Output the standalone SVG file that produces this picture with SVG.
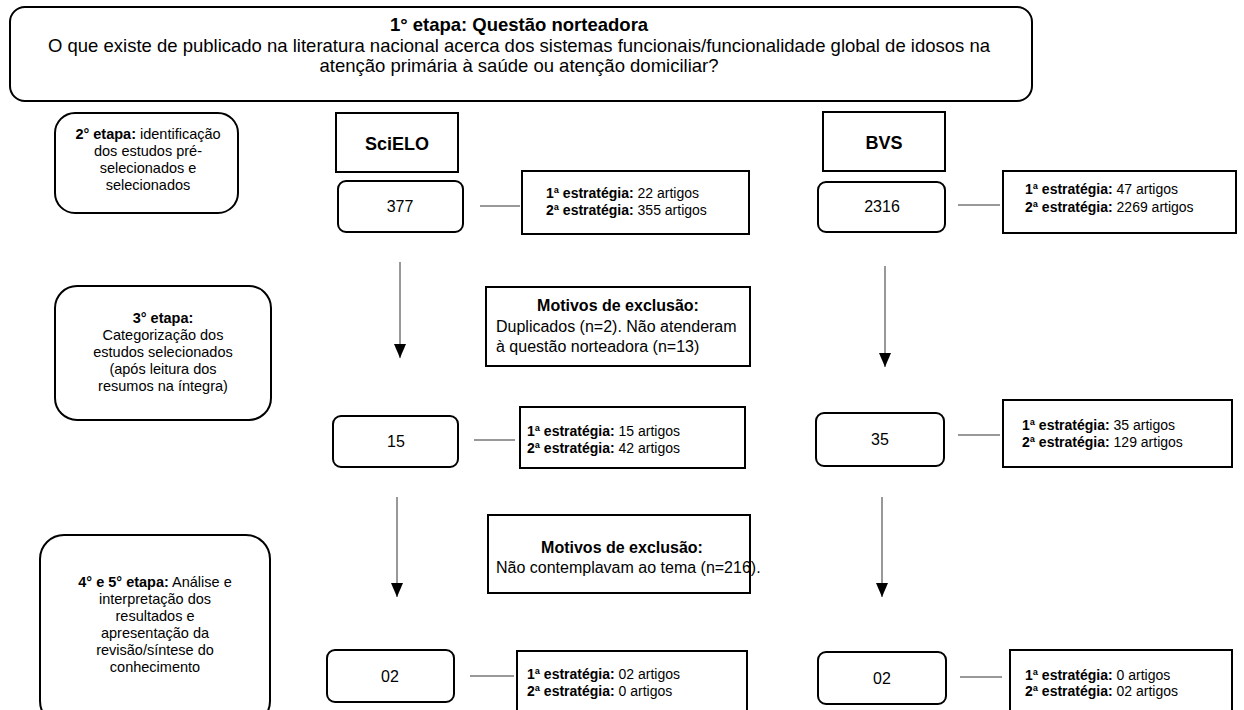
<svg xmlns="http://www.w3.org/2000/svg" width="1244" height="710" viewBox="0 0 1244 710">
<defs>
<marker id="arr" markerWidth="14" markerHeight="12" refX="14" refY="6" orient="auto" markerUnits="userSpaceOnUse" viewBox="0 0 14 12">
<path d="M0,0 L14,6 L0,12 Z" fill="#000"/>
</marker>
</defs>
<style>
text{font-family:"Liberation Sans",Arial,sans-serif;fill:#000}
.stage{fill:#fff;stroke:#000;stroke-width:2}
.box{fill:#fff;stroke:#000;stroke-width:2}
.t14{font-size:14px}
.st{font-size:14.5px}
.t16{font-size:16px}
.top{font-size:18.5px}
.c{text-anchor:middle}
.b{font-weight:bold}
.conn line{stroke:#333;stroke-width:1}
.arrow{stroke:#333;stroke-width:1.2}
</style>
<rect width="1244" height="710" fill="#fff"/>

<g id="stage1">
<rect class="stage" x="10" y="7" width="1022" height="94" rx="15"/>
<text class="top c b" x="519" y="31">1° etapa: Questão norteadora</text>
<text class="top c" x="519" y="52">O que existe de publicado na literatura nacional acerca dos sistemas funcionais/funcionalidade global de idosos na</text>
<text class="top c" x="519" y="72">atenção primária à saúde ou atenção domiciliar?</text>
</g>

<g id="stage2">
<rect class="stage" x="55" y="113" width="183" height="100" rx="20"/>
<text class="st c" x="148" y="139"><tspan class="b">2° etapa:</tspan>  identificação</text>
<text class="st c" x="148" y="156">dos estudos pré-</text>
<text class="st c" x="148" y="173">selecionados e</text>
<text class="st c" x="148" y="190">selecionados</text>
</g>

<g id="stage3">
<rect class="stage" x="55" y="286" width="216" height="134" rx="22"/>
<text class="st c b" x="163" y="323">3° etapa:</text>
<text class="st c" x="163" y="340">Categorização dos</text>
<text class="st c" x="163" y="357">estudos selecionados</text>
<text class="st c" x="163" y="374">(após leitura dos</text>
<text class="st c" x="163" y="391">resumos na íntegra)</text>
</g>

<g id="stage45">
<rect class="stage" x="40" y="535" width="230" height="190" rx="24"/>
<text class="st c" x="155" y="587"><tspan class="b">4° e 5° etapa:</tspan> Análise e</text>
<text class="st c" x="155" y="604">interpretação dos</text>
<text class="st c" x="155" y="621">resultados e</text>
<text class="st c" x="155" y="638">apresentação da</text>
<text class="st c" x="155" y="655">revisão/síntese do</text>
<text class="st c" x="155" y="672">conhecimento</text>
</g>

<g id="scielo">
<rect class="box" x="336" y="113" width="122" height="59"/>
<text class="c b" style="font-size:18px" x="397" y="150">SciELO</text>
</g>
<g id="bvs">
<rect class="box" x="823" y="112" width="122" height="59"/>
<text class="c b" style="font-size:18px" x="884" y="149">BVS</text>
</g>

<g id="n377">
<rect class="box" x="338" y="181" width="125" height="51" rx="8"/>
<text class="t16 c" x="400" y="212">377</text>
</g>
<g id="n2316">
<rect class="box" x="818" y="182" width="127" height="50" rx="8"/>
<text class="t16 c" x="882" y="212">2316</text>
</g>
<g id="n15">
<rect class="box" x="333" y="416" width="125" height="51" rx="8"/>
<text class="t16 c" x="396" y="447">15</text>
</g>
<g id="n35">
<rect class="box" x="816" y="413" width="128" height="53" rx="8"/>
<text class="t16 c" x="880" y="445">35</text>
</g>
<g id="n02a">
<rect class="box" x="327" y="650" width="127" height="52" rx="8"/>
<text class="t16 c" x="390" y="682">02</text>
</g>
<g id="n02b">
<rect class="box" x="818" y="652" width="128" height="52" rx="8"/>
<text class="t16 c" x="882" y="684">02</text>
</g>

<g id="s1">
<rect class="box" x="522" y="171" width="227" height="63"/>
<text class="t14" x="546" y="198"><tspan class="b">1ª estratégia:</tspan> 22 artigos</text>
<text class="t14" x="546" y="215"><tspan class="b">2ª estratégia:</tspan> 355 artigos</text>
</g>
<g id="s2">
<rect class="box" x="1003" y="171" width="233" height="62"/>
<text class="t14" x="1025" y="194"><tspan class="b">1ª estratégia:</tspan> 47 artigos</text>
<text class="t14" x="1025" y="212"><tspan class="b">2ª estratégia:</tspan> 2269 artigos</text>
</g>
<g id="s3">
<rect class="box" x="520" y="407" width="225" height="61"/>
<text class="t14" x="527" y="436"><tspan class="b">1ª estratégia:</tspan> 15 artigos</text>
<text class="t14" x="527" y="453"><tspan class="b">2ª estratégia:</tspan> 42 artigos</text>
</g>
<g id="s4">
<rect class="box" x="1003" y="400" width="229" height="67"/>
<text class="t14" x="1022" y="430"><tspan class="b">1ª estratégia:</tspan> 35 artigos</text>
<text class="t14" x="1022" y="447"><tspan class="b">2ª estratégia:</tspan> 129 artigos</text>
</g>
<g id="s5">
<rect class="box" x="517" y="651" width="230" height="70"/>
<text class="t14" x="527" y="679"><tspan class="b">1ª estratégia:</tspan> 02 artigos</text>
<text class="t14" x="527" y="696"><tspan class="b">2ª estratégia:</tspan> 0 artigos</text>
</g>
<g id="s6">
<rect class="box" x="1010" y="650" width="222" height="70"/>
<text class="t14" x="1025" y="680"><tspan class="b">1ª estratégia:</tspan> 0 artigos</text>
<text class="t14" x="1025" y="696"><tspan class="b">2ª estratégia:</tspan> 02 artigos</text>
</g>

<g id="excl1">
<rect class="box" x="486" y="287" width="264" height="79"/>
<text class="t16 c b" x="618" y="311">Motivos de exclusão:</text>
<text class="t16" x="496" y="332">Duplicados (n=2). Não atenderam</text>
<text class="t16" x="496" y="352">à questão norteadora (n=13)</text>
</g>
<g id="excl2">
<rect class="box" x="488" y="515" width="262" height="78"/>
<text class="t16 c b" x="622" y="553">Motivos de exclusão:</text>
<text class="t16" x="496" y="573">Não contemplavam ao tema (n=216).</text>
</g>

<g id="connectors" class="conn">
<line x1="480" y1="206" x2="520" y2="206"/>
<line x1="958" y1="205" x2="1000" y2="205"/>
<line x1="474" y1="440" x2="515" y2="440"/>
<line x1="958" y1="435" x2="1000" y2="435"/>
<line x1="470" y1="676" x2="514" y2="676"/>
<line x1="960" y1="677" x2="1002" y2="677"/>
<line class="arrow" x1="400" y1="262" x2="400" y2="358" marker-end="url(#arr)"/>
<line class="arrow" x1="885" y1="266" x2="885" y2="367" marker-end="url(#arr)"/>
<line class="arrow" x1="397" y1="497" x2="397" y2="597" marker-end="url(#arr)"/>
<line class="arrow" x1="882" y1="497" x2="882" y2="597" marker-end="url(#arr)"/>
</g>
</svg>
